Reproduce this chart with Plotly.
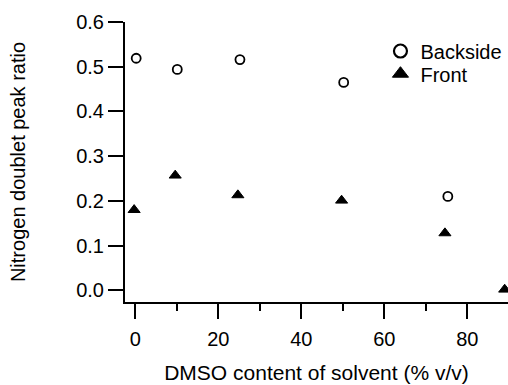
import plotly.graph_objects as go

back_x = [0.2, 10.1, 25.2, 50.2, 75.3]
back_y = [0.519, 0.494, 0.516, 0.465, 0.210]
front_x = [-0.3, 9.6, 24.7, 49.7, 74.6, 89]
front_y = [0.180, 0.257, 0.213, 0.201, 0.128, 0.002]

FONT = "Liberation Sans, Arial, sans-serif"

fig = go.Figure()
fig.add_trace(go.Scatter(x=back_x, y=back_y, mode="markers", showlegend=False,
                         marker=dict(symbol="circle-open", size=9, color="black",
                                     line=dict(width=1.8, color="black"))))
fig.add_trace(go.Scatter(x=front_x, y=front_y, mode="markers", showlegend=False,
                         marker=dict(symbol="triangle-up", size=10.5, color="black",
                                     line=dict(width=1, color="black"))))
# legend entries
fig.add_trace(go.Scatter(x=[None], y=[None], mode="markers", name="Backside", legend="legend",
                         marker=dict(symbol="circle-open", size=13, color="black",
                                     line=dict(width=2.2, color="black"))))
fig.add_trace(go.Scatter(x=[None], y=[None], mode="markers", name="Front", legend="legend2",
                         marker=dict(symbol="triangle-up", size=14, color="black",
                                     line=dict(width=1, color="black"))))

leg_common = dict(xanchor="left", yanchor="top", bgcolor="rgba(0,0,0,0)",
                  font=dict(size=20), itemsizing="trace")

fig.update_layout(
    width=508, height=385,
    margin=dict(l=125, r=0, t=22, b=83),
    plot_bgcolor="white", paper_bgcolor="white",
    font=dict(family=FONT, size=20, color="black"),
    showlegend=True,
    legend=dict(x=0.667, y=0.966, **leg_common),
    legend2=dict(x=0.667, y=0.885, **leg_common),
    xaxis=dict(range=[-2.5, 89.8], showgrid=False, zeroline=False,
               showline=True, linewidth=2, linecolor="black",
               ticks="outside", ticklen=15, tickwidth=2, tickcolor="black",
               tickvals=[0, 20, 40, 60, 80],
               minor=dict(ticks="outside", ticklen=7, tickwidth=2, tickcolor="black",
                          tickvals=[10, 30, 50, 70]),
               tickfont=dict(size=20), ticklabelstandoff=3,
               title=dict(text="DMSO content of solvent (% v/v)", font=dict(size=21), standoff=16)),
    yaxis=dict(range=[-0.026, 0.6], showgrid=False, zeroline=False,
               showline=True, linewidth=2, linecolor="black",
               ticks="outside", ticklen=15, tickwidth=2, tickcolor="black",
               tickvals=[0, 0.1, 0.2, 0.3, 0.4, 0.5, 0.6], tickformat=".1f",
               tickfont=dict(size=20),
               title=dict(text="Nitrogen doublet peak ratio", font=dict(size=20), standoff=45)),
)

fig.write_html("out.html")
